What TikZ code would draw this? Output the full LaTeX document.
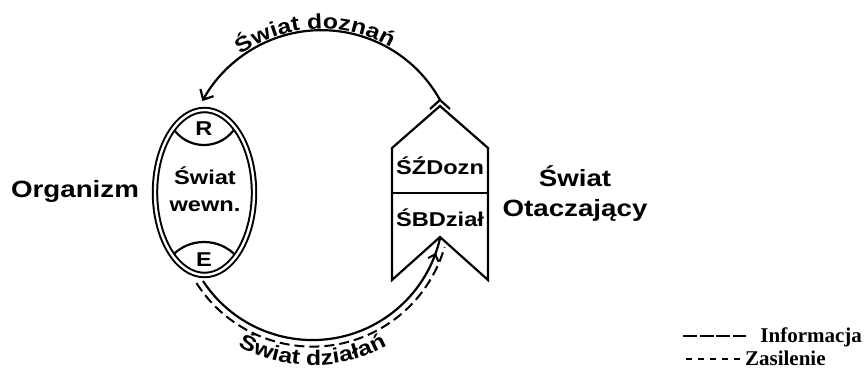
\documentclass[tikz,border=0pt]{standalone}
\usepackage{fontspec}
\newfontfamily\sansb{Liberation Sans}[FakeStretch=1.18]
\newfontfamily\serifb{Liberation Serif}
\usetikzlibrary{arrows.meta,decorations.text,decorations.markings,shapes.geometric}
\begin{document}
\begin{tikzpicture}[x=1pt,y=-1pt,line width=2.2pt,
  lbl/.style={font=\sansb\bfseries\fontsize{23.5}{30}\selectfont,align=center,inner sep=0pt},
  intext/.style={font=\sansb\bfseries\fontsize{20}{26.5}\selectfont,align=center,inner sep=0pt},
  leg/.style={font=\serifb\bfseries\fontsize{21}{24}\selectfont,inner sep=0pt},
  info/.style={line width=2.2pt},
  power/.style={line width=2pt,dash pattern=on 10pt off 5pt},
  arctext/.style={decorate,decoration={text along path,text align=center,
     text={|\sansb\bfseries\fontsize{21}{25}\selectfont|#1}}}]
\useasboundingbox (0,0) rectangle (867,371);
% caps inside the organism
\begin{scope}
  \clip (204.5,192.5) ellipse [x radius=49.5, y radius=82.5];
  \draw (204,108) circle [radius=37];
  \draw (204,286) circle [radius=44];
\end{scope}
\node[ellipse,draw,double,double distance=2.4pt,line width=2pt,
  minimum width=99pt,minimum height=165pt,inner sep=0pt] (org) at (204.5,192.5) {};
\node[intext] (R) at (204,129) {R};
\node[intext] (E) at (204,260) {E};
\node[intext] (wew) at (205,189) {Świat\\wewn.};
\node[lbl,anchor=base] (orgl) at (75,198) {Organizm};
\node[lbl] (ot) at (575,194) {Świat\\Otaczający};
% environment block
\coordinate (apex) at (440,106);
\coordinate (tl) at (392,148);
\coordinate (tr) at (488,148);
\coordinate (bl) at (392,280);
\coordinate (br) at (488,280);
\coordinate (notch) at (440,237);
\coordinate (ml) at (392,193);
\coordinate (mr) at (488,193);
\draw[line join=miter] (apex) -- (tr) -- (br) -- (notch) -- (bl) -- (tl) -- cycle;
\draw (ml) -- (mr);
\node[intext,anchor=base] (dozn) at (440,175) {ŚŹDozn};
\node[intext,anchor=base] (dzial) at (440,227) {ŚBDział};
% top connector
\coordinate (mk) at (440,100);
\draw (mk) ++(-10,9) -- (mk) -- ++(10,9);
\draw[info,-{Straight Barb[length=8pt,width=15pt]}] (mk) arc[start angle=-29,end angle=-151.5,radius=135.5];
% bottom connector
\coordinate (orgbot) at (203,281);
\coordinate (bc) at (312.4,209.1);
\draw[info,postaction={decorate,decoration={markings,
   mark=at position 0.95 with {\arrow[line width=2pt]{Straight Barb[length=6pt,width=11pt]}}}}]
   (orgbot) arc[start angle=146.7,end angle=12.8,radius=130.9];
\draw[power] ([shift={(147.5:137.5)}]bc) arc[start angle=147.5,end angle=16,radius=137.5];
% curved labels
\coordinate (tc) at (321,168);
\path[arctext={Świat doznań}] ([shift={(-165:139)}]tc) arc[start angle=-165,end angle=-20,radius=139];
\path[arctext={Świat działań}] ([shift={(150:156)}]bc) arc[start angle=150,end angle=30,radius=156];
% legend
\coordinate (s1) at (683,336);
\coordinate (s2) at (746,336);
\coordinate (d1) at (686,359);
\coordinate (d2) at (741,359);
\draw[line width=1.5pt,dash pattern=on 14pt off 2.5pt] (s1) -- (s2);
\draw[line width=1.5pt,dash pattern=on 6pt off 6pt] (d1) -- (d2);
\node[leg,anchor=base east] (inf) at (863,342) {Informacja};
\node[leg,anchor=base west] (zas) at (744,365) {Zasilenie};
\end{tikzpicture}
\end{document}
